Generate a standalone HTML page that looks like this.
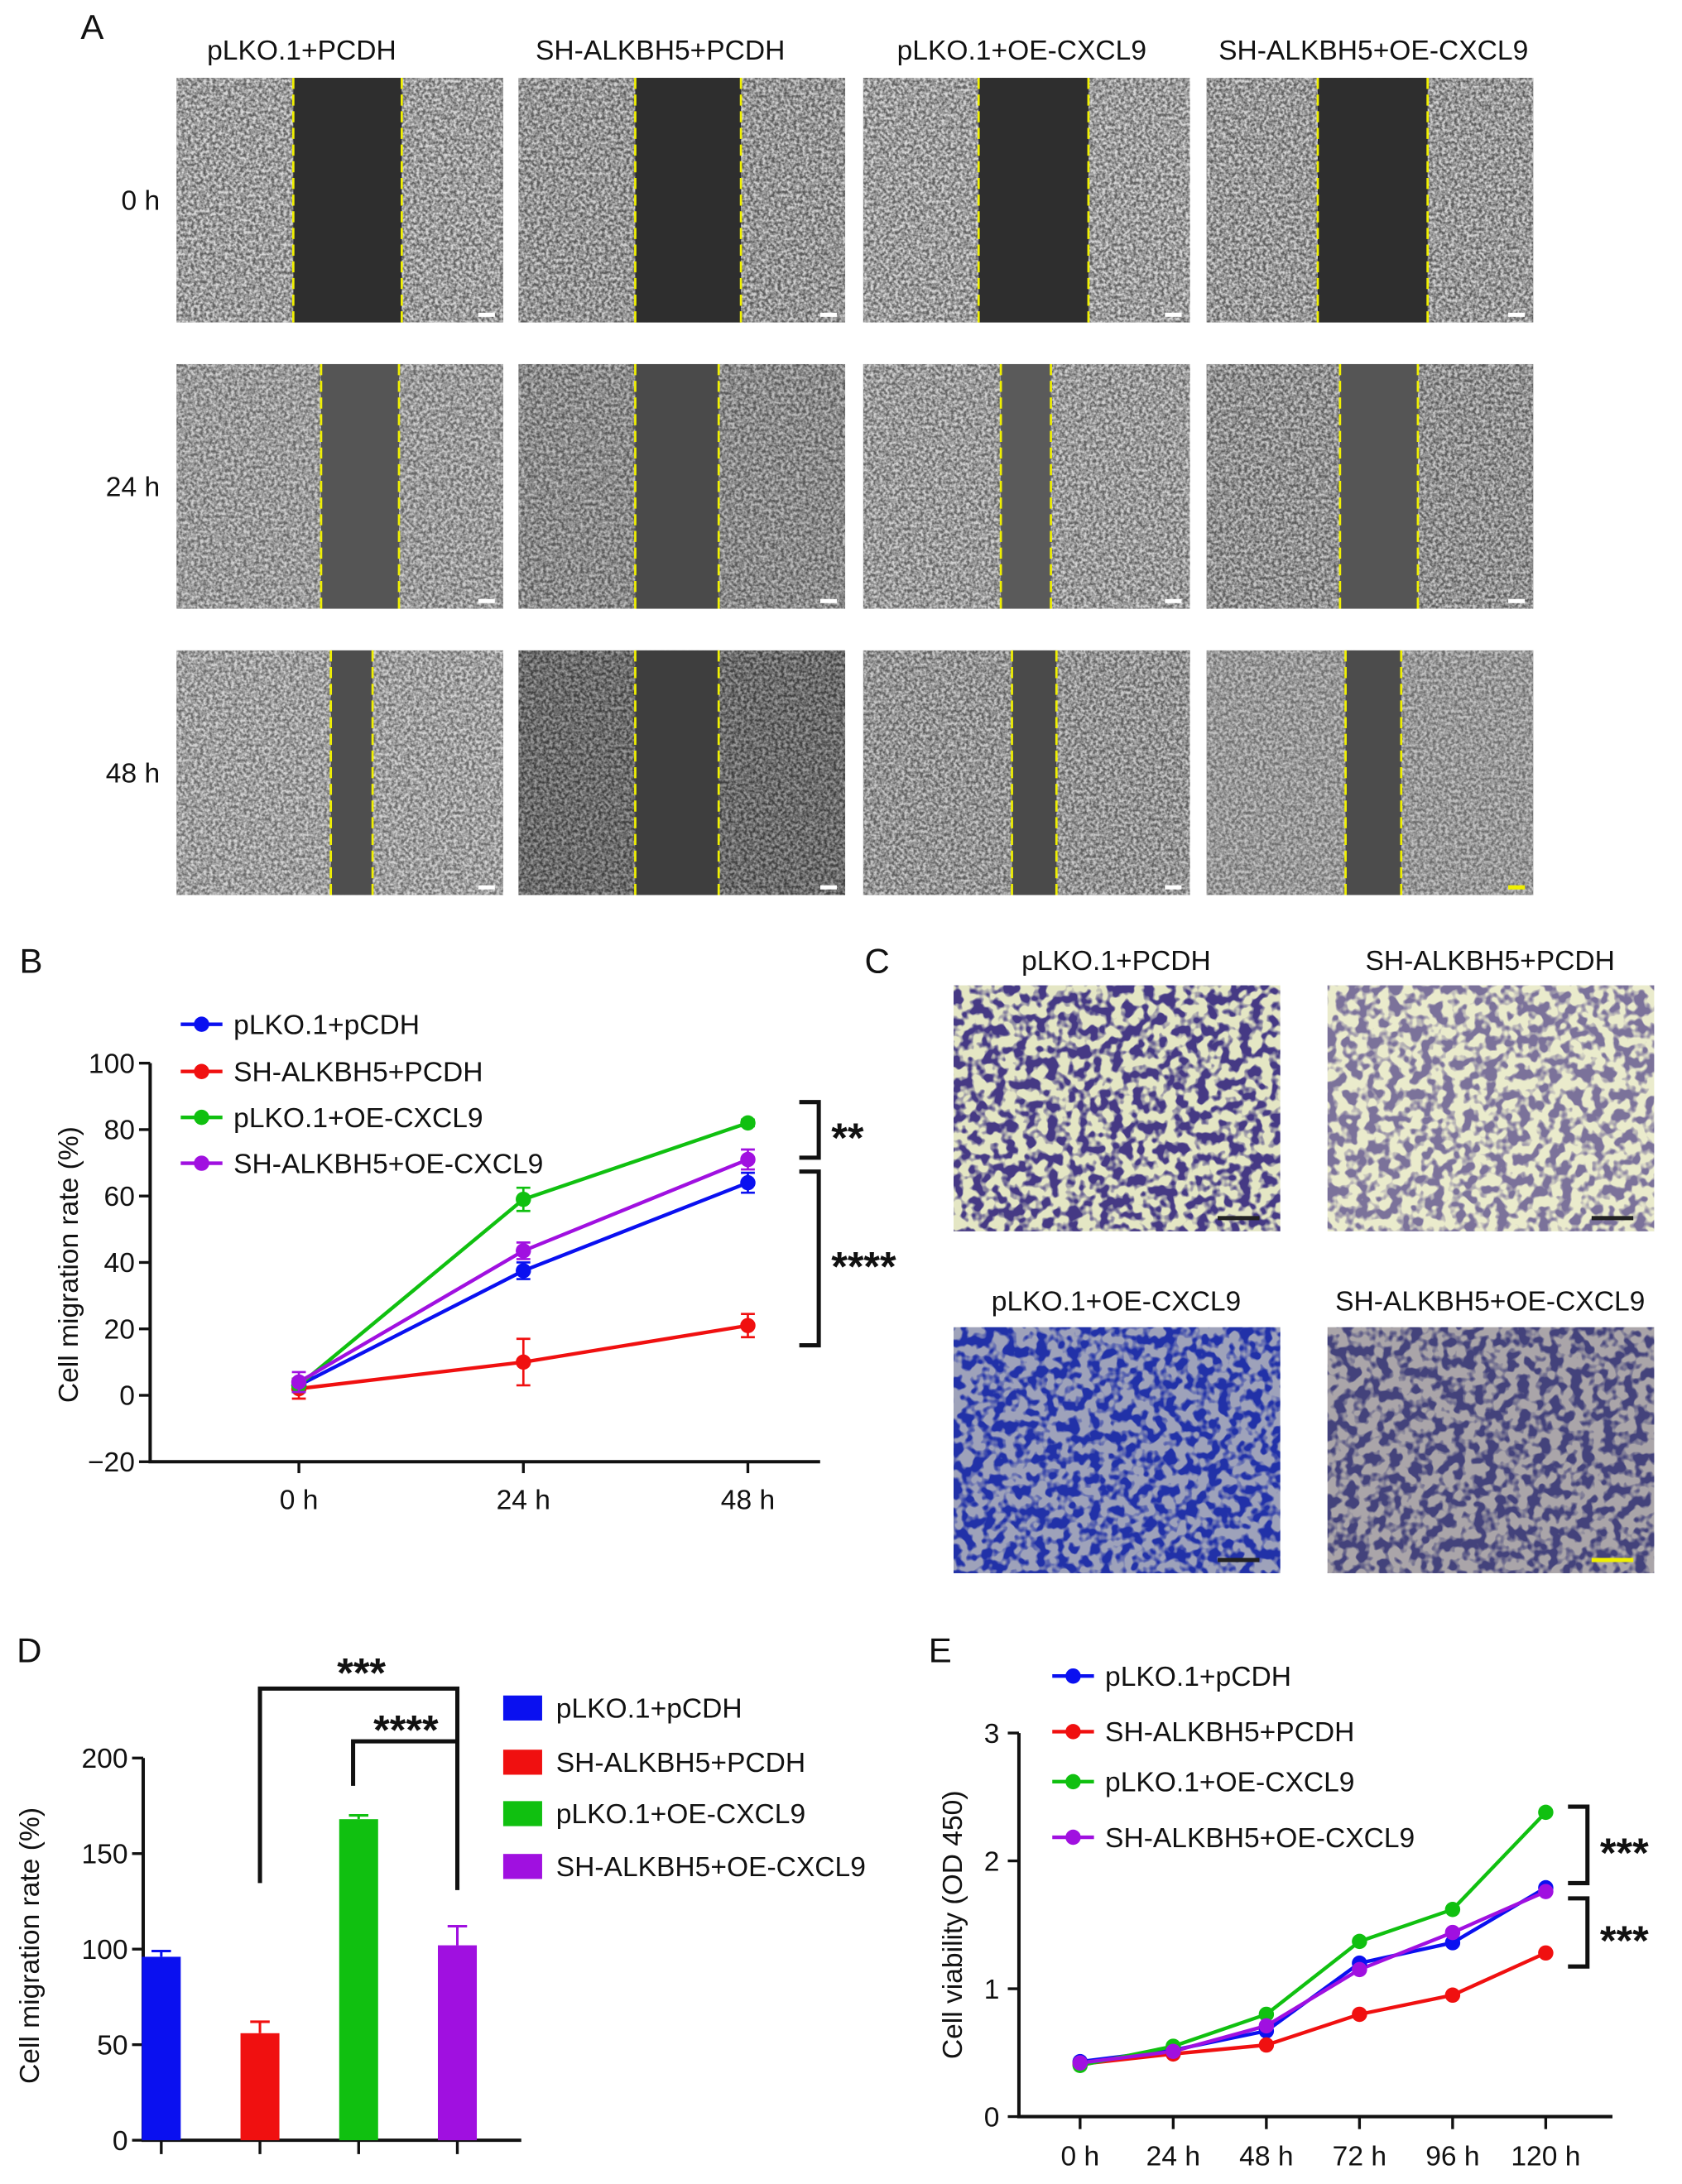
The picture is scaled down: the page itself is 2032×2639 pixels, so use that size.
<!DOCTYPE html>
<html><head><meta charset="utf-8">
<style>
html,body{margin:0;padding:0;background:#fff;}
svg{display:block;font-family:"Liberation Sans",Arial,sans-serif;}
</style></head>
<body>
<svg id="fig" width="2032" height="2639" viewBox="0 0 1210 1571.5" xmlns="http://www.w3.org/2000/svg">
<defs>
<filter id="cells" x="0" y="0" width="100%" height="100%">
  <feTurbulence type="fractalNoise" baseFrequency="0.45" numOctaves="2" seed="3" result="n"/>
  <feColorMatrix in="n" type="matrix" values="0 0 0 0 0  0 0 0 0 0  0 0 0 0 0  0 0 0 -2.2 1.6" result="a"/>
  <feComposite in="SourceGraphic" in2="a" operator="in"/>
</filter>
<filter id="blobs" x="0" y="0" width="100%" height="100%">
  <feTurbulence type="fractalNoise" baseFrequency="0.13" numOctaves="2" seed="7" result="n"/>
  <feColorMatrix in="n" type="matrix" values="0 0 0 0 0  0 0 0 0 0  0 0 0 0 0  0 0 0 -6 3.4" result="a"/>
  <feComposite in="SourceGraphic" in2="a" operator="in"/>
</filter>
</defs>
<g id="panelA"></g>
<g id="panelB"></g>
<g id="panelC"></g>
<g id="panelD"></g>
<g id="panelE"></g>
</svg>
<script>
const NS = "http://www.w3.org/2000/svg";
// ---------- data ----------
const groupNames = ["pLKO.1+pCDH","SH-ALKBH5+PCDH","pLKO.1+OE-CXCL9","SH-ALKBH5+OE-CXCL9"];
const colors = ["#0a10f0","#f01010","#10c010","#a010e0"];
const bCategories = ["0 h","24 h","48 h"];
const bBlue = [3, 37.5, 64];
const bRed = [2, 10, 21];
const bGreen = [3, 59, 82];
const bPurple = [4, 43.5, 71];
const bBlueErr = [2, 2.5, 3];
const bRedErr = [3, 7, 3.5];
const bGreenErr = [2, 3.5, 1];
const bPurpleErr = [3, 2.5, 3];
const bTicks = [-20, 0, 20, 40, 60, 80, 100];
const dValues = [96, 56, 168, 102];
const dErrors = [3, 6, 2, 10];
const dTicks = [0, 50, 100, 150, 200];
const eCategories = ["0 h","24 h","48 h","72 h","96 h","120 h"];
const eBlue = [0.43, 0.52, 0.67, 1.20, 1.36, 1.79];
const eRed = [0.41, 0.49, 0.56, 0.80, 0.95, 1.28];
const eGreen = [0.40, 0.55, 0.80, 1.37, 1.62, 2.38];
const ePurple = [0.42, 0.51, 0.71, 1.15, 1.44, 1.76];
const eTicks = [0, 1, 2, 3];
const aColumns = ["pLKO.1+PCDH","SH-ALKBH5+PCDH","pLKO.1+OE-CXCL9","SH-ALKBH5+OE-CXCL9"];
const aRows = ["0 h","24 h","48 h"];

const FS = 20;
function el(tag, attrs, parent, text){
  const e = document.createElementNS(NS, tag);
  for (const k in attrs) e.setAttribute(k, attrs[k]);
  if (text !== undefined) e.textContent = text;
  parent.appendChild(e);
  return e;
}
function txt(parent, x, y, s, size, anchor, name, extra){
  const t = el("text", Object.assign({x:x, y:y, "font-size":size, "text-anchor":anchor||"start", fill:"#111"}, extra||{}), parent, s);
  
  
  return t;
}

// ---------- Panel A ----------
(function(){
  const g = document.getElementById("panelA");
  txt(g, 58, 28, "A", 25, "start", "panel-label-a");
  const colX = [127, 373, 621, 868], tw = 235;
  const titleX = [217, 475, 735, 988];
  const rowY = [56, 262, 468], th = 176;
  const gaps = [[[84,162],[84,160],[83,162],[80,159]],[[104,160],[84,144],[99,135],[96,152]],[[111,141],[84,144],[107,139],[100,140]]];
  const bgs = [["#606060","#5a5a5a","#606060","#5c5c5c"],["#666","#585858","#626262","#5a5a5a"],["#6a6a6a","#3e3e3e","#5e5e5e","#6c6c6c"]];
  const fg = [["#d8d8d8","#d0d0d0","#d8d8d8","#d4d4d4"],["#cfcfcf","#bdbdbd","#d2d2d2","#c8c8c8"],["#d4d4d4","#9a9a9a","#cacaca","#c4c4c4"]];
  const gapC = [["#2e2e2e","#2e2e2e","#2e2e2e","#2e2e2e"],["#555","#4a4a4a","#5a5a5a","#555"],["#4e4e4e","#3e3e3e","#4a4a4a","#4c4c4c"]];
  aColumns.forEach((c,i)=>txt(g, titleX[i], 43, c, FS, "middle", "column-title-"+(i+1)));
  aRows.forEach((r,j)=>txt(g, 115, rowY[j]+th/2+7, r, FS, "end", "row-label-"+r.replace(" ","")));
  aRows.forEach((r,j)=>aColumns.forEach((c,i)=>{
    const x=colX[i], y=rowY[j];
    const tile = el("g", {}, g);
    
    
    el("rect",{x:x,y:y,width:tw,height:th,fill:bgs[j][i]},tile);
    el("rect",{x:x,y:y,width:tw,height:th,fill:fg[j][i],filter:"url(#cells)"},tile);
    const [g1,g2]=gaps[j][i];
    el("rect",{x:x+g1,y:y,width:g2-g1,height:th,fill:gapC[j][i]},tile);
    [g1,g2].forEach(gx=>el("line",{x1:x+gx,y1:y,x2:x+gx,y2:y+th,stroke:"#f0f000","stroke-width":1.6,"stroke-dasharray":"8 4"},tile));
    el("rect",{x:x+tw-18,y:y+th-7,width:12,height:3,fill:(j==2&&i==3)?"#f0f000":"#fff"},tile);
  }));
})();

// ---------- line chart helper ----------
function lineChart(g, cfg){
  const {xs, yOf, series, errs, prefix} = cfg;
  series.forEach((s,si)=>{
    const pts = s.map((v,k)=>xs(k)+","+yOf(v)).join(" ");
    const pl = el("polyline",{points:pts,fill:"none",stroke:colors[si],"stroke-width":2.6},g);
    
    
  });
  series.forEach((s,si)=>{
    s.forEach((v,k)=>{
      if (errs){
        const e = errs[si][k];
        const eb = el("path",{d:`M${xs(k)},${yOf(v+e)}V${yOf(v-e)}M${xs(k)-5},${yOf(v+e)}h10M${xs(k)-5},${yOf(v-e)}h10`,stroke:colors[si],"stroke-width":1.6,fill:"none"},g);
        
        
      }
      const c = el("circle",{cx:xs(k),cy:yOf(v),r:5.5,fill:colors[si]},g);
      
      
    });
  });
}
function legendLines(g, x, ys, prefix){
  groupNames.forEach((n,i)=>{
    const lg = el("g",{},g);
    
    
    el("line",{x1:x,y1:ys[i],x2:x+30,y2:ys[i],stroke:colors[i],"stroke-width":2.6},lg);
    el("circle",{cx:x+15,cy:ys[i],r:5.5,fill:colors[i]},lg);
    txt(lg, x+38, ys[i]+7, n, FS, "start", prefix+'-legend-text-'+(i+1));
  });
}
function bracket(g, x, y1, y2, stars, name){
  const p = el("path",{d:`M${x-14},${y1}H${x}V${y2}H${x-14}`,stroke:"#111","stroke-width":3,fill:"none"},g);
  
  
  txt(g, x+9, (y1+y2)/2+16, stars, 30, "start", name+'-stars', {"font-weight":"bold"});
}

// ---------- Panel B ----------
(function(){
  const g = document.getElementById("panelB");
  txt(g, 14, 700, "B", 25, "start", "panel-label-b");
  const yOf = v => 1004 - v*2.39;
  const xs = k => 215 + k*161.5;
  const ax = el("path",{d:`M108,${yOf(100)}V${yOf(-20)}H590`,stroke:"#111","stroke-width":2.4,fill:"none"},g);
   
  bTicks.forEach(t=>{
    el("line",{x1:100,y1:yOf(t),x2:108,y2:yOf(t),stroke:"#111","stroke-width":2},g);
    txt(g, 97, yOf(t)+7, t<0?"\u2212"+(-t):String(t), FS, "end", "b-y-tick-"+t);
  });
  bCategories.forEach((c,k)=>{
    el("line",{x1:xs(k),y1:1052,x2:xs(k),y2:1060,stroke:"#111","stroke-width":2},g);
    txt(g, xs(k), 1086, c, FS, "middle", "b-x-tick-"+k);
  });
  txt(g, 56, 910, "Cell migration rate (%)", FS, "middle", "b-y-axis-title", {transform:"rotate(-90 56 910)"});
  lineChart(g,{xs,yOf,series:[bBlue,bRed,bGreen,bPurple],errs:[bBlueErr,bRedErr,bGreenErr,bPurpleErr],prefix:"b"});
  legendLines(g, 130, [737,771,804,837], "b");
  bracket(g, 589, 793, 833, "**", "b-bracket-1");
  bracket(g, 589, 843, 968, "****", "b-bracket-2");
})();

// ---------- Panel C ----------
(function(){
  const g = document.getElementById("panelC");
  txt(g, 622, 700, "C", 25, "start", "panel-label-c");
  const boxes = [[686,709,"pLKO.1+PCDH","#e4e6c4","#2a1e7a",698,0.85],[955,709,"SH-ALKBH5+PCDH","#eaebcc","#30207a",698,0.6],[686,955,"pLKO.1+OE-CXCL9","#c8c8c0","#2030a8",943,1],[955,955,"SH-ALKBH5+OE-CXCL9","#d4cebc","#2a2a70",943,0.8]];
  boxes.forEach((b,i)=>{
    const [x,y,name,bg,fgc,ty,op]=b;
    txt(g, x+117, ty, name, FS, "middle", "transwell-title-"+(i+1));
    const im = el("g",{},g);
    
    
    el("rect",{x:x,y:y,width:235,height:177,fill:bg},im);
    el("rect",{x:x,y:y,width:235,height:177,fill:fgc,filter:"url(#blobs)",opacity:op},im);
    if(i>=2) el("rect",{x:x,y:y,width:235,height:177,fill:fgc,opacity:0.25},im);
    el("rect",{x:x+190,y:y+166,width:30,height:3,fill:i==3?"#f0f000":"#222"},im);
  });
})();

// ---------- Panel D ----------
(function(){
  const g = document.getElementById("panelD");
  txt(g, 12, 1196, "D", 25, "start", "panel-label-d");
  const yOf = v => 1540 - v*1.375;
  const xs = k => 116 + k*71;
  const ax = el("path",{d:`M103,${yOf(200)}V1540H375`,stroke:"#111","stroke-width":2.4,fill:"none"},g);
   
  dTicks.forEach(t=>{
    el("line",{x1:95,y1:yOf(t),x2:103,y2:yOf(t),stroke:"#111","stroke-width":2},g);
    txt(g, 92, yOf(t)+7, String(t), FS, "end", "d-y-tick-"+t);
  });
  txt(g, 28, 1400, "Cell migration rate (%)", FS, "middle", "d-y-axis-title", {transform:"rotate(-90 28 1400)"});
  dValues.forEach((v,k)=>{
    el("line",{x1:xs(k),y1:1540,x2:xs(k),y2:1550,stroke:"#111","stroke-width":2},g);
    const e = dErrors[k];
    const eb = el("path",{d:`M${xs(k)},${yOf(v)}V${yOf(v+e)}M${xs(k)-7},${yOf(v+e)}h14`,stroke:colors[k],"stroke-width":1.8,fill:"none"},g);
     
    const r = el("rect",{x:xs(k)-14,y:yOf(v),width:28,height:1540-yOf(v),fill:colors[k]},g);
     
  });
  const br = el("path",{d:`M${xs(1)},1355V1215H${xs(3)}V1360`,stroke:"#111","stroke-width":3,fill:"none"},g);
   
  const br2 = el("path",{d:`M${xs(2)-4},1285V1253H${xs(3)}`,stroke:"#111","stroke-width":3,fill:"none"},g);
   
  txt(g, 260, 1214, "***", 30, "middle", "d-stars-1", {"font-weight":"bold"});
  txt(g, 292, 1255, "****", 30, "middle", "d-stars-2", {"font-weight":"bold"});
  groupNames.forEach((n,i)=>{
    const y=[1229,1268,1305,1343][i];
    const lg = el("g",{},g);
     
    el("rect",{x:362,y:y-9,width:28,height:18,fill:colors[i]},lg);
    txt(lg, 400, y+7, n, FS, "start", 'd-legend-text-'+(i+1));
  });
})();

// ---------- Panel E ----------
(function(){
  const g = document.getElementById("panelE");
  txt(g, 668, 1196, "E", 25, "start", "panel-label-e");
  const yOf = v => 1523 - v*92;
  const xs = k => 777 + k*67;
  const ax = el("path",{d:`M733,${yOf(3)}V1523H1160`,stroke:"#111","stroke-width":2.4,fill:"none"},g);
   
  eTicks.forEach(t=>{
    el("line",{x1:725,y1:yOf(t),x2:733,y2:yOf(t),stroke:"#111","stroke-width":2},g);
    txt(g, 719, yOf(t)+7, String(t), FS, "end", "e-y-tick-"+t);
  });
  eCategories.forEach((c,k)=>{
    el("line",{x1:xs(k),y1:1523,x2:xs(k),y2:1532,stroke:"#111","stroke-width":2},g);
    txt(g, xs(k), 1558, c, FS, "middle", "e-x-tick-"+k);
  });
  txt(g, 692, 1385, "Cell viability (OD 450)", FS, "middle", "e-y-axis-title", {transform:"rotate(-90 692 1385)"});
  lineChart(g,{xs,yOf,series:[eBlue,eRed,eGreen,ePurple],errs:null,prefix:"e"});
  legendLines(g, 757, [1206,1246,1282,1322], "e");
  bracket(g, 1142, 1300, 1355, "***", "e-bracket-1");
  bracket(g, 1142, 1366, 1415, "***", "e-bracket-2");
})();
</script>
</body></html>
